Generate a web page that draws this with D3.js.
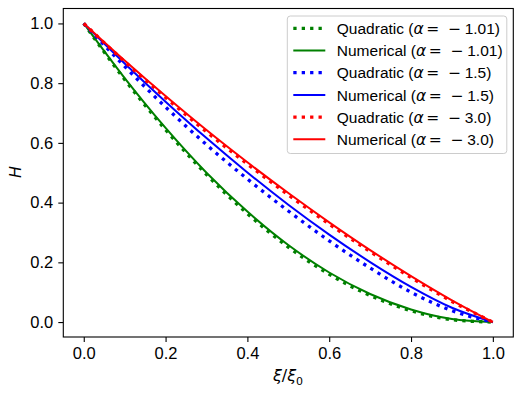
<!DOCTYPE html>
<html>
<head>
<meta charset="utf-8">
<script src="https://cdn.jsdelivr.net/npm/d3@7"></script>
<style>
  body { margin: 0; background: white; }
  svg { display: block; font-family: "Liberation Sans", Arial, sans-serif; }
</style>
</head>
<body>
<svg id="chart" width="523" height="393"></svg>
<script>
// H against xi/xi0
var xiRatio = [0, 0.1, 0.2, 0.3, 0.4, 0.5, 0.6, 0.7, 0.8, 0.9, 1.0];
var quadGreen = [1.0, 0.812, 0.644, 0.494, 0.363, 0.251, 0.160, 0.089, 0.038, 0.008, 0.0];
var numGreen  = [1.0, 0.817, 0.650, 0.500, 0.370, 0.258, 0.166, 0.094, 0.042, 0.010, 0.0];
var quadBlue  = [1.0, 0.856, 0.720, 0.594, 0.479, 0.372, 0.272, 0.181, 0.100, 0.038, 0.0];
var numBlue   = [1.0, 0.866, 0.738, 0.616, 0.501, 0.393, 0.293, 0.201, 0.118, 0.048, 0.0];
var quadRed   = [1.0, 0.872, 0.752, 0.637, 0.529, 0.426, 0.328, 0.236, 0.149, 0.069, 0.0];
var numRed    = [1.0, 0.876, 0.757, 0.643, 0.535, 0.432, 0.334, 0.241, 0.154, 0.073, 0.0];
var alphaLabels = ["1.01", "1.5", "3.0"];
var xTicks = [0.0, 0.2, 0.4, 0.6, 0.8, 1.0];
var yTicks = [0.0, 0.2, 0.4, 0.6, 0.8, 1.0];

var series = [
    { kind: "Quadratic", alpha: alphaLabels[0], color: "green", values: quadGreen, dotted: true },
    { kind: "Numerical", alpha: alphaLabels[0], color: "green", values: numGreen,  dotted: false },
    { kind: "Quadratic", alpha: alphaLabels[1], color: "blue",  values: quadBlue,  dotted: true },
    { kind: "Numerical", alpha: alphaLabels[1], color: "blue",  values: numBlue,   dotted: false },
    { kind: "Quadratic", alpha: alphaLabels[2], color: "red",   values: quadRed,   dotted: true },
    { kind: "Numerical", alpha: alphaLabels[2], color: "red",   values: numRed,    dotted: false }
];

var plotLeft = 63.3, plotRight = 513.3, plotTop = 8.5, plotBottom = 337;
var svg = d3.select("#chart");

var x = d3.scaleLinear().domain([-0.05, 1.05]).range([plotLeft, plotRight]);
var y = d3.scaleLinear().domain([-0.05, 1.05]).range([plotBottom, plotTop]);

// curves
var line = d3.line()
    .x(function (d) { return x(d[0]) })
    .y(function (d) { return y(d[1]) })
    .curve(d3.curveMonotoneX);

svg.append("g")
    .selectAll("path")
    .data(series)
    .enter()
    .append("path")
    .attr("d", function (s) {
        return line(s.values.map(function (v, i) { return [xiRatio[i], v] }))
    })
    .style("fill", "none")
    .style("stroke", function (s) { return s.color })
    .style("stroke-width", function (s) { return s.dotted ? 3.3 : 2 })
    .style("stroke-dasharray", function (s) { return s.dotted ? "3.3,5.1" : null });

// axes
var xAxis = svg.append("g")
    .attr("transform", "translate(0," + plotBottom + ")")
    .call(d3.axisBottom(x).tickValues(xTicks).tickFormat(d3.format(".1f")).tickSize(5).tickPadding(5));
var yAxis = svg.append("g")
    .attr("transform", "translate(" + plotLeft + ",0)")
    .call(d3.axisLeft(y).tickValues(yTicks).tickFormat(d3.format(".1f")).tickSize(5).tickPadding(5));
[xAxis, yAxis].forEach(function (a) {
    a.select(".domain").remove();
    a.selectAll("line").style("stroke", "black").style("stroke-width", 1.1);
    a.selectAll("text")
        .style("font-family", "'Liberation Sans', Arial, sans-serif")
        .style("font-size", "16.5px")
        .style("fill", "black");
});

// frame
svg.append("rect")
    .attr("x", plotLeft).attr("y", plotTop)
    .attr("width", plotRight - plotLeft).attr("height", plotBottom - plotTop)
    .style("fill", "none").style("stroke", "black").style("stroke-width", 1.1);

// axis labels
svg.append("text")
    .attr("x", 288).attr("y", 381)
    .attr("text-anchor", "middle")
    .style("font-family", "'DejaVu Sans', sans-serif")
    .style("font-size", "16px")
    .call(function (t) {
        t.append("tspan").style("font-style", "italic").text("\u03be");
        t.append("tspan").text("/");
        t.append("tspan").style("font-style", "italic").text("\u03be");
        t.append("tspan").attr("dy", 4).style("font-size", "11px").text("0");
    });

svg.append("text")
    .attr("transform", "translate(21,172) rotate(-90)")
    .attr("text-anchor", "middle")
    .style("font-family", "'DejaVu Sans', sans-serif")
    .style("font-style", "italic")
    .style("font-size", "16px")
    .text("H");

// legend
var lgX = 287.3, lgY = 16, lgW = 219.5, lgH = 137.5, rowH = 22.2;
var legend = svg.append("g");
legend.append("rect")
    .attr("x", lgX).attr("y", lgY)
    .attr("width", lgW).attr("height", lgH)
    .attr("rx", 3)
    .style("fill", "white").style("fill-opacity", 0.8)
    .style("stroke", "#cccccc").style("stroke-width", 1);

var rows = legend.selectAll(".row")
    .data(series)
    .enter()
    .append("g")
    .attr("class", "row")
    .attr("transform", function (d, i) { return "translate(0," + (lgY + 12.3 + rowH * i) + ")" });

rows.append("line")
    .attr("x1", lgX + 6).attr("x2", lgX + 38)
    .attr("y1", 0).attr("y2", 0)
    .style("stroke", function (s) { return s.color })
    .style("stroke-width", function (s) { return s.dotted ? 3.3 : 2 })
    .style("stroke-dasharray", function (s) { return s.dotted ? "3.3,5.1" : null });

rows.append("text")
    .attr("x", lgX + 49.5)
    .attr("y", 5.6)
    .style("font-size", "15.5px")
    .each(function (s) {
        var t = d3.select(this);
        t.append("tspan").text(s.kind + " (");
        t.append("tspan").style("font-family", "'DejaVu Sans', sans-serif").style("font-style", "italic").text("\u03b1");
        t.append("tspan").attr("dx", 2.5).style("font-family", "'DejaVu Sans', sans-serif").text("=");
        t.append("tspan").attr("dx", 9).style("font-family", "'DejaVu Sans', sans-serif").text("\u2212");
        t.append("tspan").attr("dx", 3.5).text(s.alpha + ")");
    });
</script>
</body>
</html>
